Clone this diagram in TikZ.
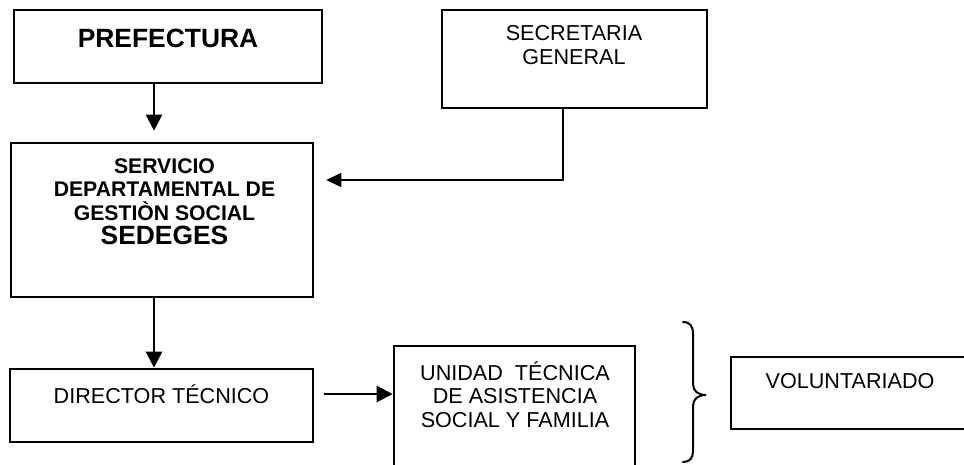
\documentclass[tikz,border=0pt]{standalone}
\usepackage{fontspec}
\setmainfont{Liberation Sans}
\usetikzlibrary{arrows.meta}
\begin{document}
\begin{tikzpicture}[x=1pt,y=-1pt,
  box/.style={draw=black, line width=2.6pt, rectangle, inner sep=0pt},
  lbl/.style={align=center, inner sep=0pt, font=\fontsize{21.6}{23.5}\selectfont},
  blbl/.style={align=center, inner sep=0pt, font=\fontsize{21.2}{23.5}\selectfont\bfseries},
  bigb/.style={align=center, inner sep=0pt, font=\fontsize{26.4}{28}\selectfont\bfseries},
  arr/.style={line width=2.5pt, -{Triangle[length=16pt,width=16pt]}},
  thin/.style={line width=1.8pt, -{Triangle[length=15pt,width=14pt]}}]
\useasboundingbox[fill=white] (0,0) rectangle (964,464);

% boxes
\node[box, minimum width=308pt, minimum height=73pt] (pref) at (168,46.5) {};
\node[box, minimum width=265pt, minimum height=98pt] (sec) at (574.5,59) {};
\node[box, minimum width=302pt, minimum height=154pt] (sed) at (162,220) {};
\node[box, minimum width=303pt, minimum height=73pt] (dir) at (161.5,405.5) {};
\node[box, minimum width=241pt, minimum height=121pt] (uni) at (514.5,406.5) {};
\node[box, minimum width=238pt, minimum height=72pt] (vol) at (850,393) {};

% texts
\node[bigb] (preft) at (168,38) {PREFECTURA};
\node[lbl] (sect) at (574,45) {SECRETARIA\\GENERAL};
\node[blbl] (sedt) at (164.5,189.5) {SERVICIO\\DEPARTAMENTAL DE\\GESTIÒN SOCIAL};
\node[bigb] (sedt2) at (164.5,235.5) {SEDEGES};
\node[lbl] (dirt) at (161.5,394) {DIRECTOR TÉCNICO};
\node[lbl] (unit) at (515,394.5) {UNIDAD\ \ TÉCNICA\\DE ASISTENCIA\\SOCIAL Y FAMILIA};
\node[lbl] (volt) at (850,381) {VOLUNTARIADO};

% helper coordinates
\coordinate (ax) at (154,0);
\coordinate (sx) at (563,0);
\coordinate (sy) at (0,180);

% connectors
\draw[arr, shorten >=11pt] (pref.south -| ax) -- (sed.north -| ax);
\draw[arr] (sed.south -| ax) -- (dir.north -| ax);
\draw[thin, shorten >=12pt] (sec.south -| sx) |- (sed.east |- sy);
\draw[arr] ([xshift=10pt]dir.east |- dirt) -- (uni.west |- dirt);

% brace
\draw[line width=2pt, line cap=round]
  (683,322) .. controls (690,322) and (693,326) .. (693,334)
  -- (693,384) .. controls (693,391) and (698,395) .. (706,395)
  .. controls (698,395) and (693,399) .. (693,406)
  -- (693,451) .. controls (693,458) and (690,462) .. (683,462);
\end{tikzpicture}
\end{document}
